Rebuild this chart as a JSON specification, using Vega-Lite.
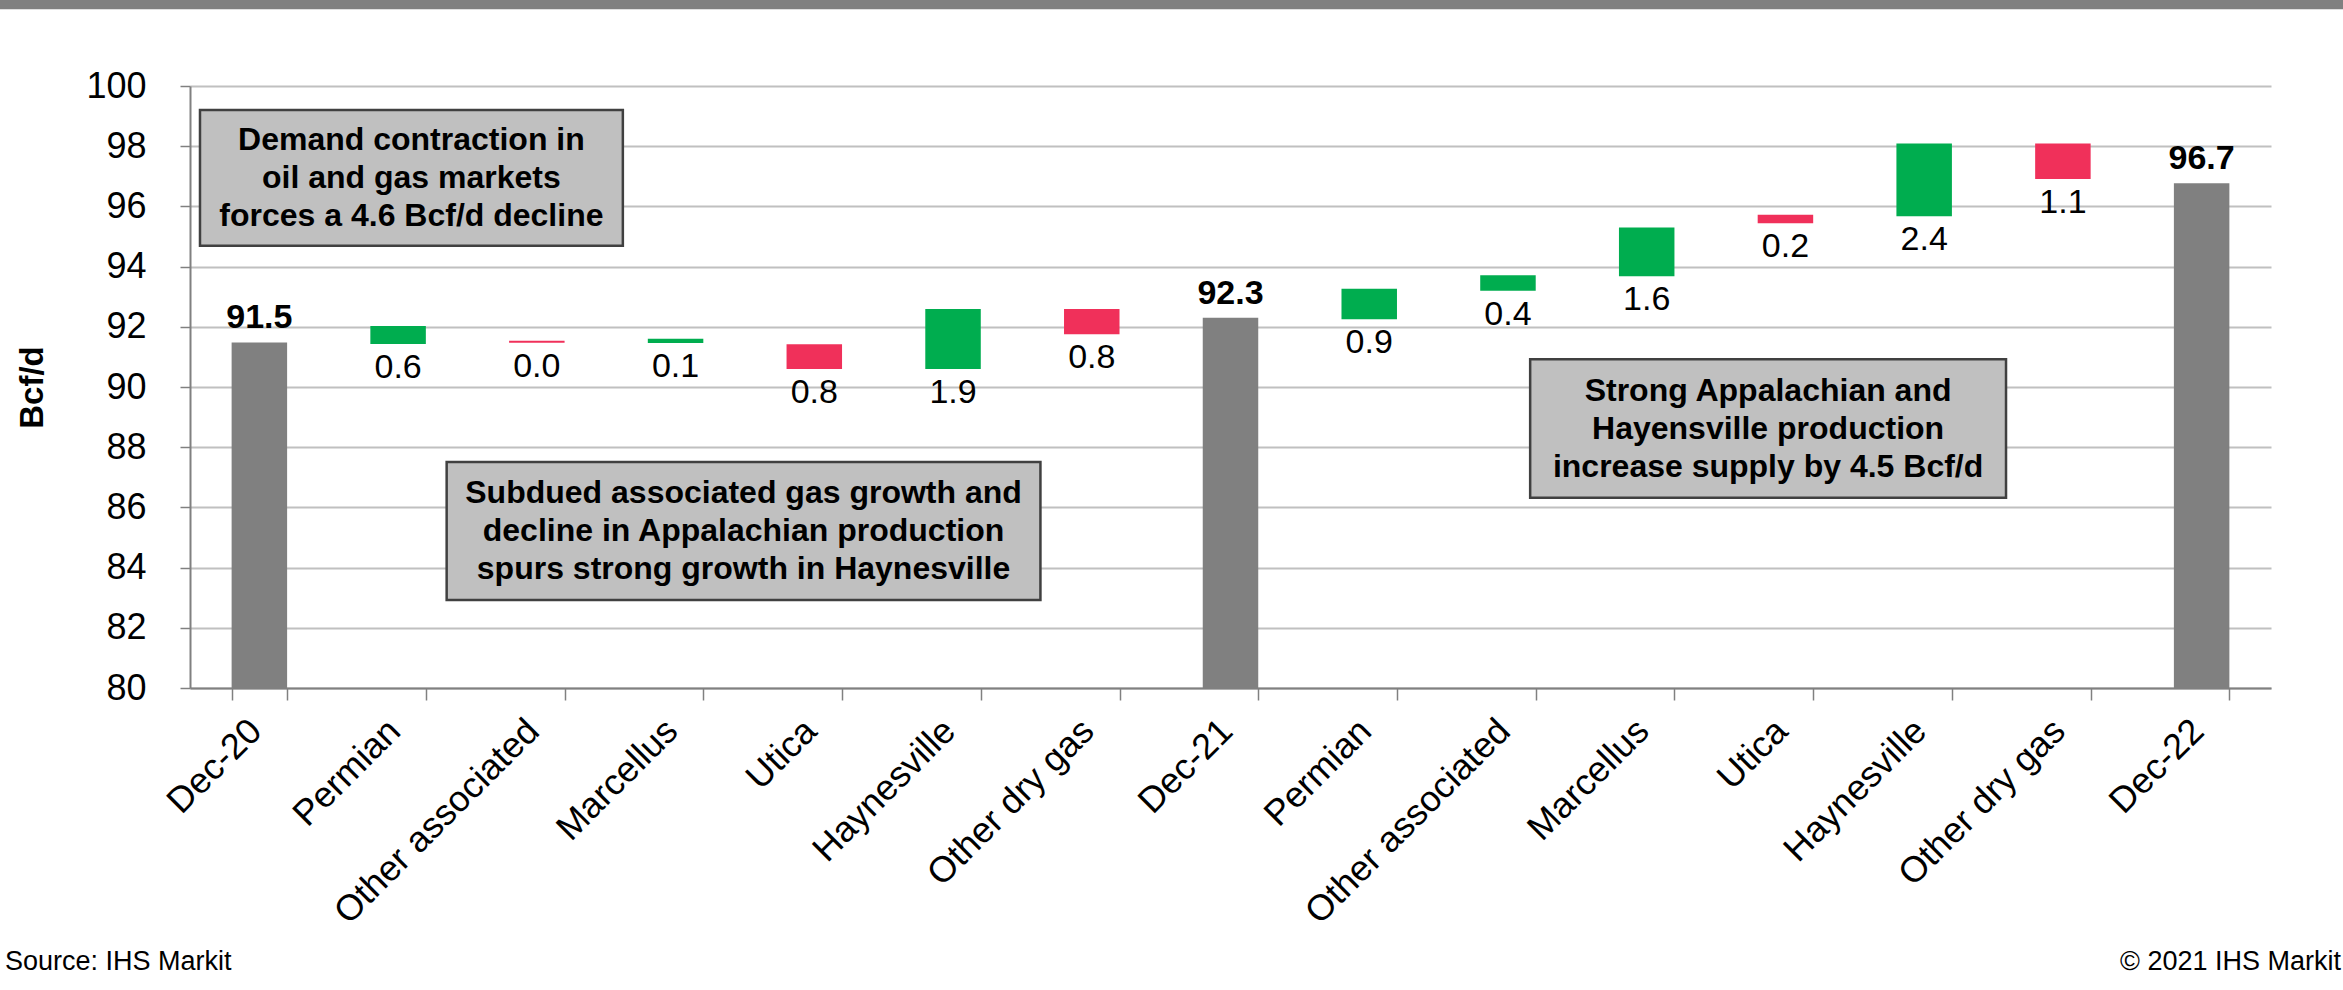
{
  "$schema": "https://vega.github.io/schema/vega-lite/v6.json",
  "width": 2081,
  "height": 602,
  "autosize": {"type": "none"},
  "padding": {"left": 190, "top": 86, "right": 72, "bottom": 302},
  "background": "white",
  "config": {"view": {"stroke": null}, "font": "Liberation Sans"},
  "datasets": {
    "bars": [
      {"key": "Dec-20|0", "type": "total", "start": 80, "end": 91.48, "label": "91.5"},
      {"key": "Permian|1", "type": "increase", "start": 91.43, "end": 92.03, "label": "0.6"},
      {"key": "Other associated|2", "type": "decrease", "start": 91.54, "end": 91.47, "label": "0.0"},
      {"key": "Marcellus|3", "type": "increase", "start": 91.46, "end": 91.6, "label": "0.1"},
      {"key": "Utica|4", "type": "decrease", "start": 91.42, "end": 90.6, "label": "0.8"},
      {"key": "Haynesville|5", "type": "increase", "start": 90.6, "end": 92.59, "label": "1.9"},
      {"key": "Other dry gas|6", "type": "decrease", "start": 92.59, "end": 91.75, "label": "0.8"},
      {"key": "Dec-21|7", "type": "total", "start": 80, "end": 92.3, "label": "92.3"},
      {"key": "Permian|8", "type": "increase", "start": 92.25, "end": 93.26, "label": "0.9"},
      {"key": "Other associated|9", "type": "increase", "start": 93.2, "end": 93.71, "label": "0.4"},
      {"key": "Marcellus|10", "type": "increase", "start": 93.68, "end": 95.3, "label": "1.6"},
      {"key": "Utica|11", "type": "decrease", "start": 95.72, "end": 95.44, "label": "0.2"},
      {"key": "Haynesville|12", "type": "increase", "start": 95.67, "end": 98.09, "label": "2.4"},
      {"key": "Other dry gas|13", "type": "decrease", "start": 98.09, "end": 96.91, "label": "1.1"},
      {"key": "Dec-22|14", "type": "total", "start": 80, "end": 96.77, "label": "96.7"}
    ],
    "notes": [
      {"x1": 0.072, "x2": 3.12, "y1": 99.2, "y2": 94.69, "xc": 1.596, "yc": 96.95, "text": ["Demand contraction in", "oil and gas markets", "forces a 4.6 Bcf/d decline"]},
      {"x1": 1.85, "x2": 6.13, "y1": 87.51, "y2": 82.92, "xc": 3.99, "yc": 85.22, "text": ["Subdued associated gas growth and", "decline in Appalachian production", "spurs strong growth in Haynesville"]},
      {"x1": 9.66, "x2": 13.09, "y1": 90.92, "y2": 86.32, "xc": 11.375, "yc": 88.62, "text": ["Strong Appalachian and", "Hayensville production", "increase supply by 4.5 Bcf/d"]}
    ]
  },
  "resolve": {"scale": {"x": "independent"}},
  "layer": [
    {
      "data": {"values": [{"x1": -1.37, "x2": 15.52, "y1": 102.87, "y2": 102.55}]},
      "mark": {"type": "rect", "color": "#808080"},
      "encoding": {
        "x": {"field": "x1", "type": "quantitative", "scale": {"domain": [0, 15], "nice": false, "zero": false}, "axis": null},
        "x2": {"field": "x2"},
        "y": {"field": "y1", "type": "quantitative", "scale": {"domain": [80, 100], "nice": false, "zero": false}},
        "y2": {"field": "y2"}
      }
    },
    {
      "data": {"name": "bars"},
      "layer": [
        {
          "mark": {"type": "bar"},
          "encoding": {
            "x": {
              "field": "key", "type": "nominal", "sort": null,
              "scale": {"paddingInner": 0.6, "paddingOuter": 0.3},
              "axis": {
                "title": null,
                "labelExpr": "isValid(datum.value) ? split(datum.value, '|')[0] : ''",
                "labelAngle": -45,
                "labelAlign": "right",
                "labelBaseline": "middle",
                "labelFontSize": 36,
                "labelColor": "#000000",
                "labelPadding": 25,
                "labelOffset": -4,
                "labelLimit": 0,
                "labelOverlap": false,
                "labelBound": false,
                "tickBand": "extent",
                "tickSize": 12,
                "tickColor": "#808080",
                "tickWidth": 1.5,
                "domainColor": "#808080",
                "domainWidth": 2,
                "grid": false
              }
            },
            "y": {
              "field": "start", "type": "quantitative",
              "scale": {"domain": [80, 100], "nice": false, "zero": false},
              "axis": {
                "title": "Bcf/d",
                "titleFontSize": 33,
                "titleFontWeight": "bold",
                "titleColor": "#000000",
                "titlePadding": 36,
                "values": [80, 82, 84, 86, 88, 90, 92, 94, 96, 98, 100],
                "labelFontSize": 36,
                "labelColor": "#000000",
                "labelPadding": 34,
                "tickSize": 10,
                "tickColor": "#808080",
                "tickWidth": 1.5,
                "domainColor": "#808080",
                "domainWidth": 2,
                "grid": true,
                "gridColor": "#C0C0C0",
                "gridWidth": 2
              }
            },
            "y2": {"field": "end"},
            "color": {
              "field": "type", "type": "nominal",
              "scale": {"domain": ["total", "increase", "decrease"], "range": ["#808080", "#00AD4F", "#F0305A"]},
              "legend": null
            }
          }
        },
        {
          "transform": [{"filter": "datum.type === 'increase'"}],
          "mark": {"type": "text", "fontSize": 34, "color": "#000000", "baseline": "middle", "dy": 24},
          "encoding": {
            "x": {"field": "key", "type": "nominal", "sort": null},
            "y": {"field": "start", "type": "quantitative", "scale": {"domain": [80, 100], "nice": false, "zero": false}},
            "text": {"field": "label"}
          }
        },
        {
          "transform": [{"filter": "datum.type === 'decrease'"}],
          "mark": {"type": "text", "fontSize": 34, "color": "#000000", "baseline": "middle", "dy": 24},
          "encoding": {
            "x": {"field": "key", "type": "nominal", "sort": null},
            "y": {"field": "end", "type": "quantitative", "scale": {"domain": [80, 100], "nice": false, "zero": false}},
            "text": {"field": "label"}
          }
        },
        {
          "transform": [{"filter": "datum.type === 'total'"}],
          "mark": {"type": "text", "fontSize": 34, "fontWeight": "bold", "color": "#000000", "baseline": "middle", "dy": -24},
          "encoding": {
            "x": {"field": "key", "type": "nominal", "sort": null},
            "y": {"field": "end", "type": "quantitative", "scale": {"domain": [80, 100], "nice": false, "zero": false}},
            "text": {"field": "label"}
          }
        }
      ]
    },
    {
      "data": {"name": "notes"},
      "mark": {"type": "rect", "fill": "#C0C0C0", "stroke": "#404040", "strokeWidth": 2.5},
      "encoding": {
        "x": {"field": "x1", "type": "quantitative", "scale": {"domain": [0, 15], "nice": false, "zero": false}, "axis": null},
        "x2": {"field": "x2"},
        "y": {"field": "y1", "type": "quantitative", "scale": {"domain": [80, 100], "nice": false, "zero": false}},
        "y2": {"field": "y2"}
      }
    },
    {
      "data": {"name": "notes"},
      "mark": {"type": "text", "fontSize": 32, "fontWeight": "bold", "color": "#000000", "align": "center", "baseline": "middle", "lineHeight": 38, "dy": -38},
      "encoding": {
        "x": {"field": "xc", "type": "quantitative", "scale": {"domain": [0, 15], "nice": false, "zero": false}, "axis": null},
        "y": {"field": "yc", "type": "quantitative", "scale": {"domain": [80, 100], "nice": false, "zero": false}},
        "text": {"field": "text"}
      }
    },
    {
      "data": {"values": [{"text": "Source: IHS Markit", "x": -1.334, "y": 70.9}]},
      "mark": {"type": "text", "fontSize": 27, "color": "#000000", "align": "left", "baseline": "middle"},
      "encoding": {
        "x": {"field": "x", "type": "quantitative", "scale": {"domain": [0, 15], "nice": false, "zero": false}, "axis": null},
        "y": {"field": "y", "type": "quantitative", "scale": {"domain": [80, 100], "nice": false, "zero": false}},
        "text": {"field": "text"}
      }
    },
    {
      "data": {"values": [{"text": "© 2021 IHS Markit", "x": 15.505, "y": 70.9}]},
      "mark": {"type": "text", "fontSize": 27, "color": "#000000", "align": "right", "baseline": "middle"},
      "encoding": {
        "x": {"field": "x", "type": "quantitative", "scale": {"domain": [0, 15], "nice": false, "zero": false}, "axis": null},
        "y": {"field": "y", "type": "quantitative", "scale": {"domain": [80, 100], "nice": false, "zero": false}},
        "text": {"field": "text"}
      }
    }
  ]
}
